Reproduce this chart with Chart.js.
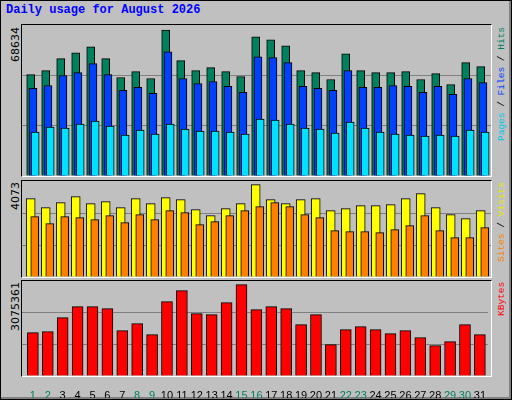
<!DOCTYPE html>
<html><head><meta charset="utf-8">
<script src="https://cdn.jsdelivr.net/npm/chart.js@4/dist/chart.umd.min.js"></script>
<style>
  body { margin: 0; background: #fff; }
  #frame { position: absolute; left: 0; top: 0; width: 508px; height: 396px; background: #c0c0c0;
    border-style: solid; border-width: 1px 3px 3px 1px; border-color: #fff #808080 #808080 #fff; outline: 1px solid #000; outline-offset: -1px; }
  .title { position: absolute; left: 5px; top: 2px; font: bold 12px "Liberation Mono", monospace; color: #0000ff; }
  .box { position: absolute; left: 20px; width: 469px; border-style: solid; border-width: 1px;
    border-color: #000 #fff #fff #000; }
  canvas { position: absolute; }
  .vlab { position: absolute; writing-mode: vertical-rl; transform: rotate(180deg); text-align: end; white-space: nowrap; }
  .num { font: 11px "DejaVu Sans", sans-serif; color: #000; left: 8px; }
  .leg { font: 9.5px "Liberation Mono", monospace; left: 495px; }
</style></head>
<body>
<div id="frame">
  <div class="title">Daily usage for August 2026</div>
  <div class="box" style="top:23px;height:151px"></div>
  <div class="box" style="top:179px;height:96px"></div>
  <div class="box" style="top:279px;height:95px"></div>
  <canvas id="c1" style="left:21px;top:24px;width:469px;height:151px"></canvas>
  <canvas id="c2" style="left:21px;top:180px;width:469px;height:96px"></canvas>
  <canvas id="c3" style="left:21px;top:280px;width:469px;height:117px"></canvas>
  <div class="vlab num" style="top:26px;height:40px">68634</div>
  <div class="vlab num" style="top:181px;height:40px">4073</div>
  <div class="vlab num" style="top:281px;height:60px">3075361</div>
  <div class="vlab leg" style="top:26px;height:130px"><span style="color:#00c8e8">Pages</span> / <span style="color:#0040ff">Files</span> / <span style="color:#008060">Hits</span></div>
  <div class="vlab leg" style="top:181px;height:95px"><span style="color:#ff8000">Sites</span> / <span style="color:#e8e800">Visits</span></div>
  <div class="vlab leg" style="top:281px;height:93px"><span style="color:#ff0000">KBytes</span></div>
</div>
<script>
const days = Array.from({ length: 31 }, (_, i) => i + 1);
const weekend = [1, 2, 8, 9, 15, 16, 22, 23, 29, 30];

const hits = [47677, 49541, 55132, 57927, 60722, 55132, 46279, 49075, 45814, 68634, 54200, 49541, 50938, 49075, 46745, 65381,
  63984, 61188, 49541, 48609, 45348, 57461, 49541, 48609, 48609, 49075, 45348, 48143, 43018, 53268, 51404];
const files = [41155, 42552, 47211, 48609, 52802, 47677, 40223, 41620, 38825, 58393, 45814, 43484, 44416, 42086, 39291, 56063,
  55597, 53268, 42086, 41155, 40223, 49541, 41620, 41620, 42552, 42086, 39291, 42086, 38359, 45814, 43950];
const pages = [20655, 22984, 22519, 24382, 25780, 23450, 19257, 21587, 19723, 24382, 22053, 21121, 21121, 20655, 19723, 26712,
  26246, 24382, 22519, 22053, 20189, 25314, 22519, 20655, 19723, 19257, 18791, 19257, 18791, 21587, 20655];
const visits = [3455, 3058, 3278, 3543, 3234, 3322, 3058, 3455, 3234, 3499, 3410, 2969, 2705, 3014, 3234, 4073,
  3410, 3234, 3410, 3455, 2925, 3014, 3146, 3146, 3190, 3455, 3675, 3058, 2749, 2573, 2925];
const sites = [2661, 2352, 2661, 2617, 2528, 2705, 2396, 2749, 2528, 2925, 2837, 2308, 2440, 2705, 2925, 3102,
  3278, 3102, 2749, 2617, 2043, 1999, 1999, 1955, 2087, 2264, 2705, 2043, 1735, 1735, 2176];
const kbytes = [1459120, 1492792, 1964200, 2334592, 2334592, 2267248, 1526464, 1762168, 1391776, 2502952, 2873344, 2098888,
  2065216, 2469280, 3075361, 2233576, 2334592, 2267248, 1728496, 2065216, 1055056, 1560136, 1661152, 1560136, 1425448,
  1526464, 1290760, 1021384, 1156072, 1728496, 1391776];

const X_MIN = 0.27, X_MAX = 0.27 + 469 / 15;

// order: higher number is painted first, so the last series ends up in front
function ds(values, offset, color, width, order) {
  return {
    data: values.map((v, i) => ({ x: days[i] + offset, y: v })),
    backgroundColor: color, borderColor: "#000", borderWidth: 1,
    barThickness: width, grouped: false, borderSkipped: "bottom", order,
  };
}

function panel(id, datasets, yMax, showDays) {
  new Chart(document.getElementById(id), {
    type: "bar",
    data: { datasets },
    options: {
      animation: false, responsive: false, events: [],
      layout: { padding: 0 },
      plugins: { legend: { display: false }, tooltip: { enabled: false } },
      scales: {
        x: {
          type: "linear", min: X_MIN, max: X_MAX, display: showDays, offset: false,
          grid: { display: false }, border: { display: false },
          afterBuildTicks: (s) => { s.ticks = days.map((d) => ({ value: d })); },
          afterFit: (s) => { s.height = showDays ? 22 : 0; },
          ticks: {
            autoSkip: false, maxRotation: 0, padding: 5,
            font: { family: "Liberation Sans", size: 11 },
            color: (c) => (weekend.includes(c.tick.value) ? "#008060" : "#000"),
            callback: (v) => String(v),
          },
        },
        y: {
          min: 0, max: yMax, display: true,
          afterBuildTicks: (s) => { s.ticks = [0, 1, 2, 3].map((k) => ({ value: yMax * k / 3 })); },
          afterFit: (s) => { s.width = 0; },
          ticks: { display: false },
          border: { display: false },
          grid: { drawTicks: false, color: (c) => (c.index === 1 || c.index === 2 ? "#808080" : "transparent") },
        },
      },
    },
  });
}

const c1 = document.getElementById("c1"); c1.width = 469; c1.height = 151;
const c2 = document.getElementById("c2"); c2.width = 469; c2.height = 96;
const c3 = document.getElementById("c3"); c3.width = 469; c3.height = 117;

panel("c1", [
  ds(hits, -0.15, "#00805c", 8, 3),
  ds(files, 0, "#0040ff", 8, 2),
  ds(pages, 0.15, "#00e0ff", 8, 1),
], 68634 * 457 / 442, false);

panel("c2", [
  ds(visits, -0.15, "#ffff00", 9, 2),
  ds(sites, 0.12, "#ff8000", 8, 1),
], 4073 * 288 / 277, false);

panel("c3", [ds(kbytes, 0, "#ff0000", 11, 1)], 3075361 * 285 / 274, true);
</script>
</body></html>
